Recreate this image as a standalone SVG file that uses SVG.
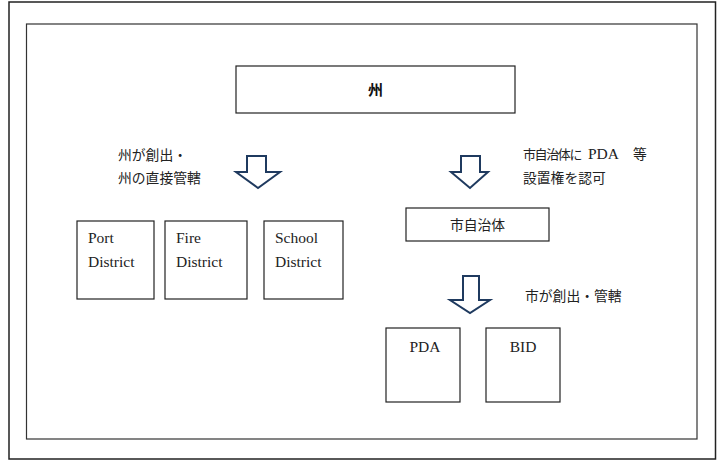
<svg xmlns="http://www.w3.org/2000/svg" width="717" height="461" viewBox="0 0 717 461">
<style>
.box{fill:#fff;stroke:#222;stroke-width:1.2}
.arr{fill:#fff;stroke:#1f3a5f;stroke-width:2;stroke-linejoin:miter}
.jp{font-family:"Noto Sans CJK JP","Noto Sans CJK SC",sans-serif;font-size:13.8px;fill:#222}
.en{font-family:"Liberation Serif",serif;font-size:15.5px;fill:#222}
</style>
<rect x="0" y="0" width="717" height="461" fill="#fff"/>
<rect x="9" y="2" width="706.5" height="457" fill="none" stroke="#222" stroke-width="1.5"/>
<rect x="26.5" y="24" width="670.5" height="415" fill="none" stroke="#333" stroke-width="1.2"/>
<g id="state"><rect class="box" x="236" y="66" width="279" height="47"/><text x="375.5" y="91" text-anchor="middle" dominant-baseline="middle" font-family="Noto Sans CJK JP,sans-serif" font-size="15" font-weight="bold" fill="#111">州</text></g>
<g id="city"><rect class="box" x="406" y="208" width="143" height="33"/><text class="jp" x="477.5" y="226" text-anchor="middle" dominant-baseline="middle">市自治体</text></g>
<g id="port"><rect class="box" x="77" y="221" width="77" height="78"/><text class="en" x="88" y="243">Port</text><text class="en" x="88" y="267">District</text></g>
<g id="fire"><rect class="box" x="165" y="221" width="82" height="78"/><text class="en" x="176" y="243">Fire</text><text class="en" x="176" y="267">District</text></g>
<g id="school"><rect class="box" x="264" y="221" width="79" height="78"/><text class="en" x="275" y="243">School</text><text class="en" x="275" y="267">District</text></g>
<g id="pda"><rect class="box" x="386" y="328" width="74" height="74"/><text class="en" x="425" y="352" text-anchor="middle">PDA</text></g>
<g id="bid"><rect class="box" x="486" y="328" width="74" height="74"/><text class="en" x="523" y="352" text-anchor="middle">BID</text></g>
<g id="connectors">
<polygon class="arr" points="247,156 266,156 266,172 280,172 258,188 236,172 247,172"/>
<polygon class="arr" points="461,156 480,156 480,172 488,172 470,188 451,172 461,172"/>
<polygon class="arr" points="463,276 479,276 479,300 490,300 470,313 450,300 463,300"/>
</g>
<g id="labels">
<text class="jp" x="118" y="160">州が創出・</text>
<text class="jp" x="118" y="183">州の直接管轄</text>
<text class="jp" x="523" y="159"><tspan font-size="13" letter-spacing="-1.4">市自治体に</tspan><tspan x="588" font-family="Liberation Serif,serif" font-size="15.5">PDA</tspan><tspan x="633">等</tspan></text>
<text class="jp" x="523" y="183">設置権を認可</text>
<text class="jp" x="525" y="301">市が創出・管轄</text>
</g>
</svg>
